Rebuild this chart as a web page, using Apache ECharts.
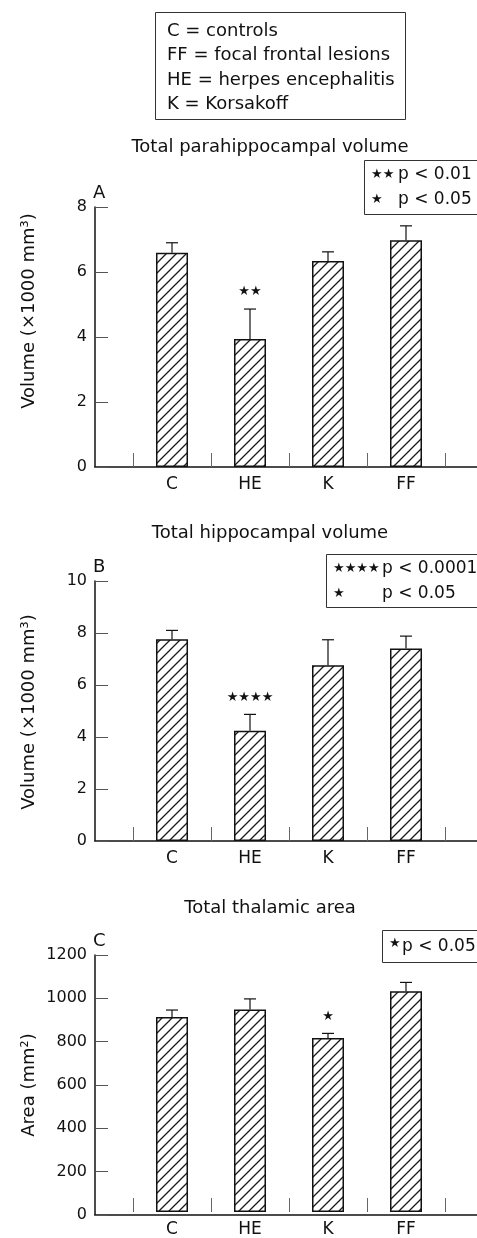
<!DOCTYPE html>
<html>
<head>
<meta charset="utf-8">
<script src="https://cdn.jsdelivr.net/npm/echarts@6/dist/echarts.min.js"></script>
<style>
  html, body { margin: 0; padding: 0; background: #fff; }
  #chart { width: 477px; height: 1238px; }
</style>
</head>
<body>
<div id="chart"></div>
<script>
var groups = ['C', 'HE', 'K', 'FF'];

// A - parahippocampal volume (x1000 mm3), mean and SEM
var paraMean = [6.59, 3.94, 6.34, 6.98];
var paraSem = [0.31, 0.92, 0.28, 0.44];
var paraStars = ['', '★★', '', ''];

// B - hippocampal volume (x1000 mm3)
var hippoMean = [7.76, 4.24, 6.76, 7.40];
var hippoSem = [0.34, 0.63, 0.98, 0.48];
var hippoStars = ['', '★★★★', '', ''];

// C - thalamic area (mm2)
var thalMean = [910, 945, 812, 1031];
var thalSem = [33, 50, 22, 41];
var thalStars = ['', '', '★', ''];

var legendLines = ['C = controls', 'FF = focal frontal lesions', 'HE = herpes encephalitis', 'K = Korsakoff'];

var FONT = 'DejaVu Sans';
var INK = '#111';

var panels = [
    { title: 'Total parahippocampal volume', letter: 'A', yName: 'Volume (×1000 mm³)', max: 8, interval: 2,
      mean: paraMean, sem: paraSem, stars: paraStars, top: 207, titleY: 147, nameY: 311,
      key: { x: 364, y: 160, w: 120, h: 54, rows: [['★★', 'p < 0.01'], ['★', 'p < 0.05']], px: 398 } },
    { title: 'Total hippocampal volume', letter: 'B', yName: 'Volume (×1000 mm³)', max: 10, interval: 2,
      mean: hippoMean, sem: hippoSem, stars: hippoStars, top: 581, titleY: 533, nameY: 712,
      key: { x: 326, y: 554, w: 160, h: 53, rows: [['★★★★', 'p < 0.0001'], ['★', 'p < 0.05']], px: 382 } },
    { title: 'Total thalamic area', letter: 'C', yName: 'Area (mm²)', max: 1200, interval: 200,
      mean: thalMean, sem: thalSem, stars: thalStars, top: 955, titleY: 908, nameY: 1085,
      key: { x: 382, y: 930, w: 100, h: 32, rows: [['★', 'p < 0.05']], px: 402 } }
];

// diagonal hatch tile
function hatchTile() {
    var s = 10;
    var c = document.createElement('canvas');
    c.width = s; c.height = s;
    var ctx = c.getContext('2d');
    ctx.fillStyle = '#fff';
    ctx.fillRect(0, 0, s, s);
    ctx.strokeStyle = '#1a1a1a';
    ctx.lineWidth = 1.3;
    ctx.beginPath();
    ctx.moveTo(-1, s + 1); ctx.lineTo(s + 1, -1);
    ctx.moveTo(-1, 1); ctx.lineTo(1, -1);
    ctx.moveTo(s - 1, s + 1); ctx.lineTo(s + 1, s - 1);
    ctx.stroke();
    return c;
}
var hatch = { image: hatchTile(), repeat: 'repeat' };

var chart = echarts.init(document.getElementById('chart'), null, { renderer: 'canvas' });

var grids = [], xAxes = [], yAxes = [], series = [], graphics = [];

// group legend box at the top
graphics.push({ type: 'rect', shape: { x: 155.5, y: 12.5, width: 250, height: 107 },
    style: { fill: '#fff', stroke: '#333', lineWidth: 1 } });
graphics.push({ type: 'text', x: 167, y: 19,
    style: { text: legendLines.join('\n'), font: '18px ' + FONT, fill: INK, lineHeight: 24.5, verticalAlign: 'top' } });

panels.forEach(function (p, i) {
    var gFrame = 2 * i, gPlot = 2 * i + 1;

    grids.push({ left: 95, top: p.top, width: 382, height: 260 });
    grids.push({ left: 133, top: p.top, width: 312, height: 260 });

    xAxes.push({ gridIndex: gFrame, type: 'value', min: 0, max: 1,
        axisLine: { show: true, onZero: false, lineStyle: { color: INK, width: 1.5 } },
        axisTick: { show: false }, axisLabel: { show: false }, splitLine: { show: false } });
    xAxes.push({ gridIndex: gPlot, type: 'category', data: groups, boundaryGap: true,
        axisLine: { show: false },
        axisTick: { show: true, inside: true, length: 14, lineStyle: { color: '#666', width: 1 } },
        axisLabel: { fontSize: 17, fontFamily: FONT, color: INK, margin: 9 } });

    yAxes.push({ gridIndex: gFrame, type: 'value', min: 0, max: p.max, interval: p.interval,
        axisLine: { show: true, onZero: false, lineStyle: { color: INK, width: 1.5 } },
        axisTick: { show: true, inside: true, length: 13, lineStyle: { color: '#555', width: 1 } },
        axisLabel: { fontSize: 16, fontFamily: FONT, color: INK, margin: 8,
            formatter: function (v) { return String(v); } },
        splitLine: { show: false } });
    yAxes.push({ gridIndex: gPlot, type: 'value', min: 0, max: p.max, show: false });

    series.push({
        type: 'bar', xAxisIndex: gPlot, yAxisIndex: gPlot,
        data: p.mean, barWidth: 32,
        itemStyle: { color: hatch, borderColor: INK, borderWidth: 1.5 },
        silent: true
    });

    var errData = p.mean.map(function (m, j) { return [j, m, m + p.sem[j]]; });
    series.push({
        type: 'custom', xAxisIndex: gPlot, yAxisIndex: gPlot, z: 3,
        data: errData,
        encode: { x: 0, y: [1, 2] },
        renderItem: function (params, api) {
            var base = api.coord([api.value(0), api.value(1)]);
            var tip = api.coord([api.value(0), api.value(2)]);
            var kids = [
                { type: 'line', shape: { x1: tip[0], y1: base[1], x2: tip[0], y2: tip[1] },
                  style: { stroke: INK, lineWidth: 1.2 } },
                { type: 'line', shape: { x1: tip[0] - 6, y1: tip[1], x2: tip[0] + 6, y2: tip[1] },
                  style: { stroke: INK, lineWidth: 1.2 } }
            ];
            var st = p.stars[params.dataIndex];
            if (st) {
                kids.push({ type: 'text', x: tip[0], y: tip[1] - 17,
                    style: { text: st, font: '13px ' + FONT, fill: INK, align: 'center', verticalAlign: 'middle' } });
            }
            return { type: 'group', children: kids };
        }
    });

    // panel title
    graphics.push({ type: 'text', x: 270, y: p.titleY,
        style: { text: p.title, font: '18px ' + FONT, fill: INK, align: 'center', verticalAlign: 'middle' } });
    // panel letter
    graphics.push({ type: 'text', x: 93, y: p.top - 14,
        style: { text: p.letter, font: '18px ' + FONT, fill: INK, align: 'left', verticalAlign: 'middle' } });
    // y axis name
    graphics.push({ type: 'text', x: 29, y: p.nameY, rotation: Math.PI / 2,
        style: { text: p.yName, font: '18px ' + FONT, fill: INK, align: 'center', verticalAlign: 'middle' } });

    // significance key
    var k = p.key;
    graphics.push({ type: 'rect', shape: { x: k.x + 0.5, y: k.y + 0.5, width: k.w, height: k.h },
        style: { fill: '#fff', stroke: '#333', lineWidth: 1 } });
    var two = k.rows.length > 1;
    k.rows.forEach(function (r, ri) {
        var cy = k.y + (two ? 15 + ri * 24.5 : 17);
        graphics.push({ type: 'text', x: k.x + 7, y: cy - (two ? 0 : 3),
            style: { text: r[0], font: '13px ' + FONT, fill: INK, align: 'left', verticalAlign: 'middle' } });
        graphics.push({ type: 'text', x: k.px, y: cy,
            style: { text: r[1], font: '17px ' + FONT, fill: INK, align: 'left', verticalAlign: 'middle' } });
    });
});

var option = {
    animation: false,
    backgroundColor: '#fff',
    grid: grids,
    xAxis: xAxes,
    yAxis: yAxes,
    series: series,
    graphic: graphics
};

chart.setOption(option);
window.addEventListener('resize', function () { chart.resize(); });
</script>
</body>
</html>
